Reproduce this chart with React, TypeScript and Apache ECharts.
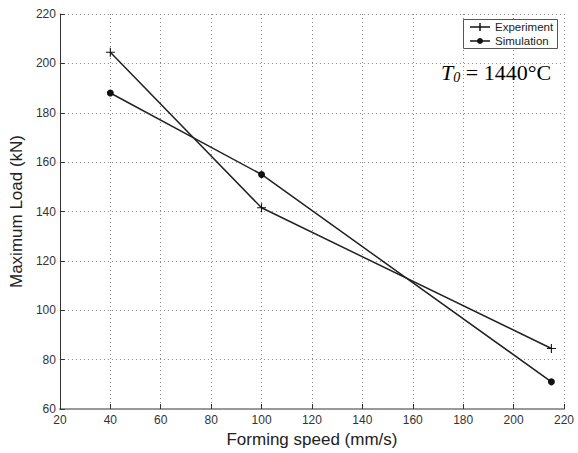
import React, { useEffect, useRef } from "react";
import * as echarts from "echarts";

const speeds = [40, 100, 215];
const experiment = [204.5, 141.5, 84.5];
const simulation = [188, 155, 71];

const plusPath = "path://M-1,-0.12 L1,-0.12 L1,0.12 L-1,0.12 Z M-0.12,-1 L0.12,-1 L0.12,1 L-0.12,1 Z";

export default function App() {
  const ref = useRef<HTMLDivElement>(null);
  useEffect(() => {
    const chart = echarts.init(ref.current!, null, { renderer: "svg" });
    const font = "Liberation Sans, Arial, sans-serif";
    const serif = "Liberation Serif, Times New Roman, serif";
    chart.setOption({
      animation: false,
      backgroundColor: "#fff",
      grid: { left: 59.5, top: 14, right: 14, bottom: 39.5, containLabel: false },
      xAxis: {
        type: "value",
        min: 20,
        max: 220,
        interval: 20,
        name: "Forming speed (mm/s)",
        nameLocation: "middle",
        nameGap: 22,
        nameTextStyle: { fontFamily: font, fontSize: 17, color: "#222" },
        axisLine: { show: true, lineStyle: { color: "#999", width: 2 } },
        axisTick: { show: true, inside: true, length: 5, lineStyle: { color: "#333" } },
        axisLabel: { fontFamily: font, fontSize: 12, color: "#333", margin: 5 },
        splitLine: { show: true, lineStyle: { color: "#888", type: [1, 3], width: 1 } },
      },
      yAxis: {
        type: "value",
        min: 60,
        max: 220,
        interval: 20,
        name: "Maximum Load (kN)",
        nameLocation: "middle",
        nameGap: 29,
        nameTextStyle: { fontFamily: font, fontSize: 17, color: "#222" },
        axisLine: { show: true, lineStyle: { color: "#333", width: 1 } },
        axisTick: { show: true, inside: true, length: 5, lineStyle: { color: "#333" } },
        axisLabel: { fontFamily: font, fontSize: 12, color: "#333", margin: 4 },
        splitLine: { show: true, lineStyle: { color: "#888", type: [1, 3], width: 1 } },
      },
      series: [
        {
          name: "Experiment",
          type: "line",
          data: speeds.map((s, i) => [s, experiment[i]]),
          symbol: plusPath,
          symbolSize: 9,
          showAllSymbol: true,
          lineStyle: { color: "#222", width: 1.5 },
          itemStyle: { color: "#111" },
        },
        {
          name: "Simulation",
          type: "line",
          data: speeds.map((s, i) => [s, simulation[i]]),
          symbol: "circle",
          symbolSize: 7,
          showAllSymbol: true,
          lineStyle: { color: "#222", width: 1.5 },
          itemStyle: { color: "#111" },
        },
      ],
      graphic: [
        {
          type: "rect",
          shape: { x: 463.5, y: 19.5, width: 94, height: 29 },
          style: { fill: "#fff", stroke: "#555", lineWidth: 1 },
          z: 10,
        },
        { type: "line", shape: { x1: 470, y1: 27, x2: 490, y2: 27 }, style: { stroke: "#111", lineWidth: 1.5 }, z: 11 },
        { type: "line", shape: { x1: 480, y1: 23, x2: 480, y2: 31 }, style: { stroke: "#111", lineWidth: 1.5 }, z: 11 },
        { type: "line", shape: { x1: 470, y1: 41, x2: 490, y2: 41 }, style: { stroke: "#111", lineWidth: 1.5 }, z: 11 },
        { type: "circle", shape: { cx: 480, cy: 41, r: 3 }, style: { fill: "#111" }, z: 11 },
        {
          type: "text",
          x: 495,
          y: 27,
          style: { text: "Experiment", fontFamily: font, fontSize: 11.5, fill: "#222", verticalAlign: "middle" },
          z: 11,
        },
        {
          type: "text",
          x: 495,
          y: 41,
          style: { text: "Simulation", fontFamily: font, fontSize: 11.5, fill: "#222", verticalAlign: "middle" },
          z: 11,
        },
        {
          type: "text",
          x: 441,
          y: 72,
          style: {
            text: "{t|T}{s|0}{n| = 1440°C}",
            verticalAlign: "middle",
            rich: {
              t: { fontFamily: serif, fontStyle: "italic", fontSize: 22, fill: "#000" },
              s: { fontFamily: serif, fontStyle: "italic", fontSize: 14, fill: "#000", padding: [10, 0, 0, 0] },
              n: { fontFamily: serif, fontSize: 22, fill: "#000" },
            },
          },
          z: 11,
        },
      ],
    });
    return () => chart.dispose();
  }, []);
  return (
    <div
      ref={ref}
      style={{ position: "fixed", left: 0, top: 0, width: 578, height: 453, background: "#fff" }}
    />
  );
}
